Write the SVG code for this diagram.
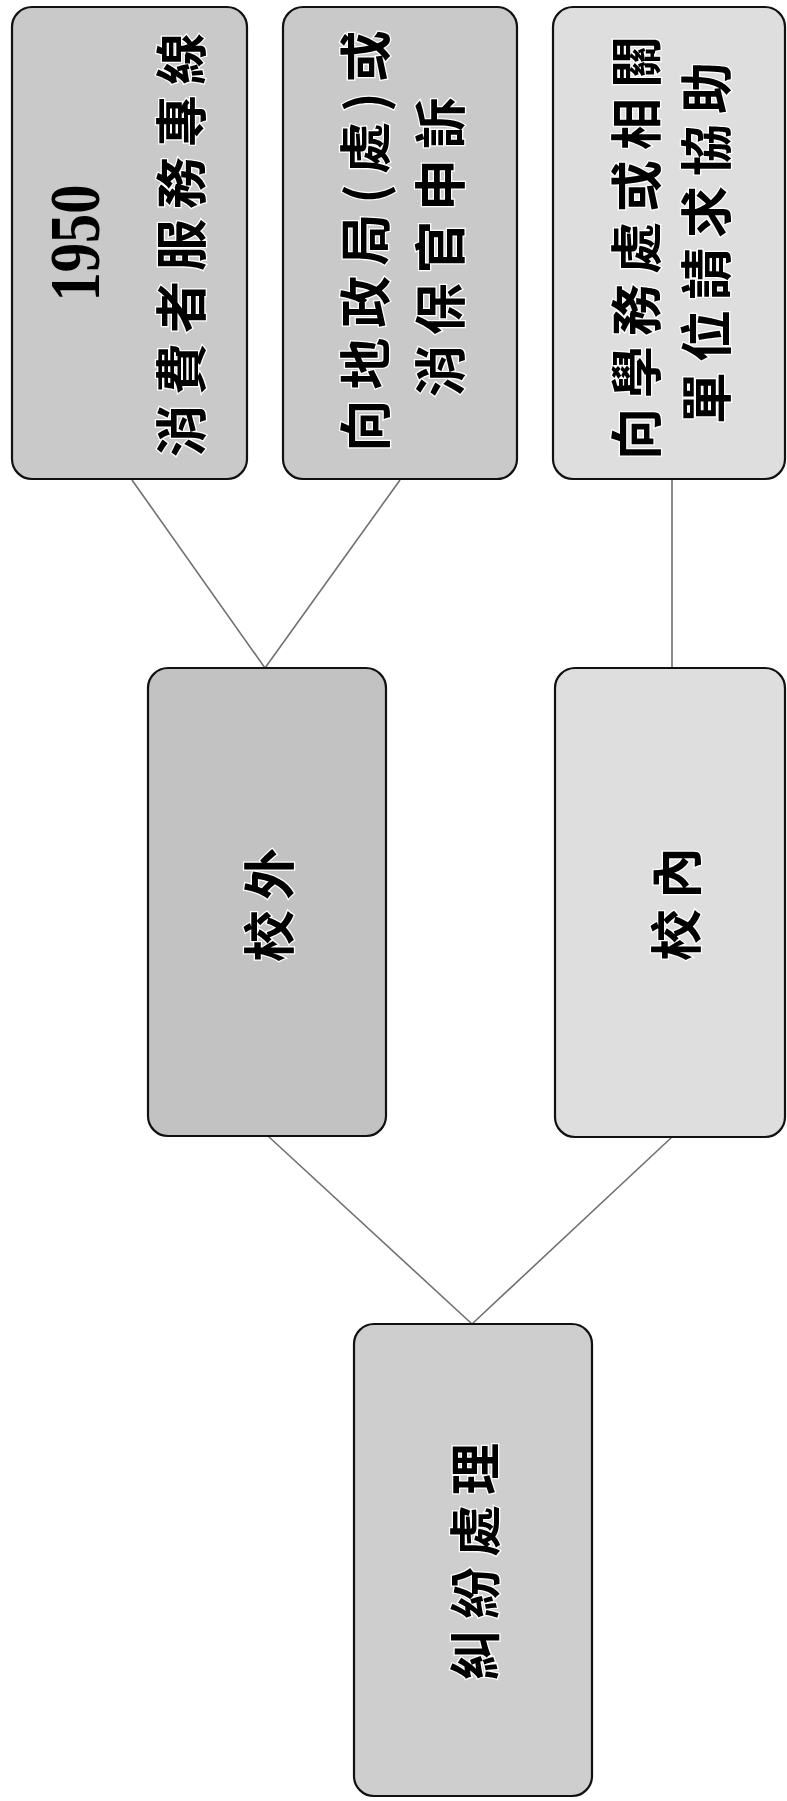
<svg xmlns="http://www.w3.org/2000/svg" width="787" height="1801" viewBox="0 0 787 1801">
<style>
.box{stroke:#111;stroke-width:2.2}
.mid{fill:#c9c9c9}
.dark{fill:#c2c2c2}
.light{fill:#dedede}
.root{fill:#cecece}
.conn{stroke:#707070;stroke-width:1.6;fill:none}
.cjk{font-family:"Noto Sans CJK TC","Noto Sans CJK SC",sans-serif;font-weight:700;font-size:52px;letter-spacing:10px;fill:#000;text-anchor:middle;dominant-baseline:central;stroke:#fff;stroke-width:2.5;paint-order:stroke}
.num{font-family:"Liberation Serif",serif;font-weight:700;font-size:72px;fill:#000;text-anchor:middle;dominant-baseline:central}
</style>
<rect width="787" height="1801" fill="#fff"/>
<g id="connectors">
<line class="conn" x1="132" y1="480" x2="265" y2="668"/>
<line class="conn" x1="400" y1="480" x2="265" y2="668"/>
<line class="conn" x1="672" y1="480" x2="672" y2="668"/>
<line class="conn" x1="268" y1="1136" x2="472" y2="1324"/>
<line class="conn" x1="672" y1="1137" x2="472" y2="1324"/>
</g>
<g id="node-hotline">
<rect class="box mid" x="12" y="7" width="235" height="472" rx="20"/>
<text class="num" transform="translate(75,243) rotate(-90)" textLength="117" lengthAdjust="spacingAndGlyphs">1950</text>
<text class="cjk" transform="translate(178,240) rotate(-90)">消費者服務專線</text>
</g>
<g id="node-complaint">
<rect class="box mid" x="283" y="7" width="234" height="472" rx="20"/>
<text class="cjk" transform="translate(362,236) rotate(-90)">向地政局(處)或</text>
<text class="cjk" transform="translate(437,242) rotate(-90)">消保官申訴</text>
</g>
<g id="node-school-help">
<rect class="box light" x="553" y="7" width="232" height="472" rx="20"/>
<text class="cjk" transform="translate(633,243) rotate(-90)">向學務處或相關</text>
<text class="cjk" transform="translate(703,238) rotate(-90)">單位請求協助</text>
</g>
<g id="node-outside">
<rect class="box dark" x="148" y="668" width="238" height="468" rx="20"/>
<text class="cjk" transform="translate(266,900) rotate(-90)">校外</text>
</g>
<g id="node-inside">
<rect class="box light" x="555" y="668" width="230" height="469" rx="20"/>
<text class="cjk" transform="translate(673,899) rotate(-90)">校內</text>
</g>
<g id="node-root">
<rect class="box root" x="354" y="1324" width="238" height="472" rx="20"/>
<text class="cjk" transform="translate(472,1557) rotate(-90)">糾紛處理</text>
</g>
</svg>
